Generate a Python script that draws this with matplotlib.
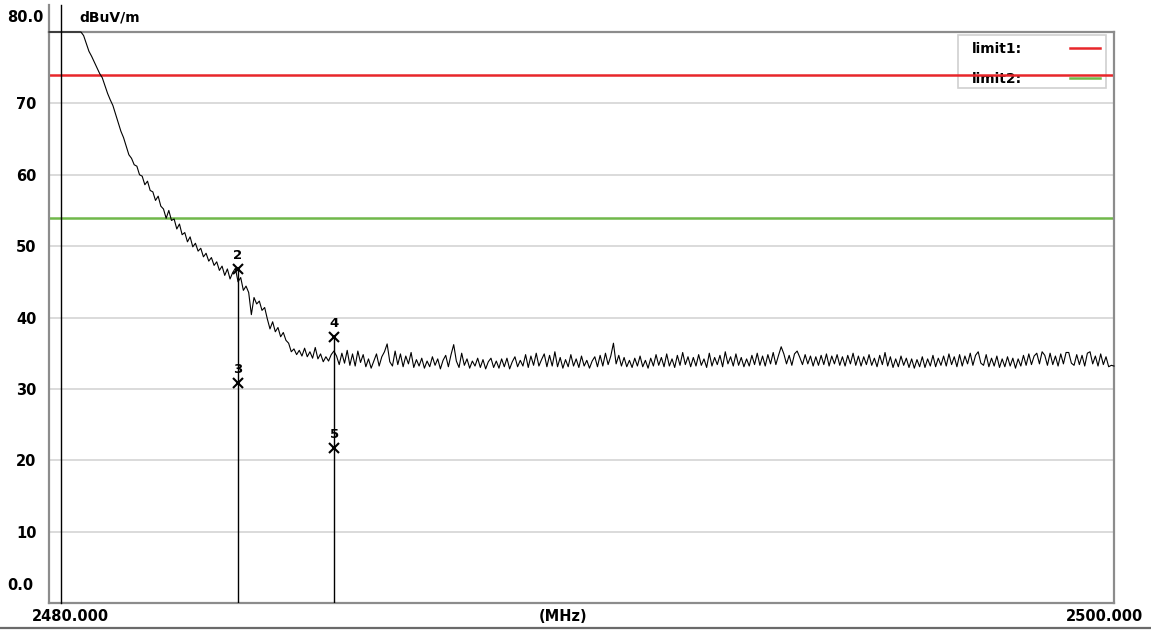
import numpy as np
import matplotlib
matplotlib.use("Agg")
import matplotlib.pyplot as plt
from matplotlib.patches import Rectangle
from matplotlib.lines import Line2D

# dados do ensaio (dBuV/m x MHz)
f_ini = 2480.0
f_fim = 2500.0

nivel_inicio = [
    80.0, 80.0, 80.0, 80.0, 80.0, 80.0, 80.0, 80.0, 80.0, 80.0,
    80.0, 80.0, 80.0, 79.5, 78.4, 77.3, 76.6, 75.8, 75.0, 74.2,
    73.6, 72.5, 71.4, 70.5, 69.7, 68.5, 67.3, 66.1, 65.2, 64.0,
    62.8, 62.3, 61.4, 61.2, 60.0, 59.8, 58.6, 59.1, 57.8, 57.6,
    56.4, 57.0, 55.6, 55.2, 53.9, 55.0, 53.6, 53.8, 52.4, 53.1,
    51.6, 51.9, 50.6, 51.3, 49.9, 50.4, 49.3, 49.7, 48.5, 49.0,
    47.9, 48.4, 47.3, 47.8, 46.6, 47.2, 45.9, 46.8, 45.4, 46.3,
    46.9, 45.0, 45.6, 43.8, 44.4, 43.5, 40.4, 42.8, 41.9, 42.3,
    41.0, 41.4, 39.8, 38.4, 39.4, 38.0, 38.6, 37.3, 37.9, 36.8,
    36.4, 35.2, 35.6, 34.8, 35.4, 34.6, 35.7, 34.5, 35.2, 34.3,
    35.8, 34.2, 34.9, 33.8, 34.5, 33.9, 34.8, 35.3,
]

nivel_ruido = [
    34.6, 33.4, 35.0, 33.6, 35.4, 33.3, 34.9, 33.2, 35.3, 33.7,
    34.8, 33.1, 34.2, 32.9, 33.9, 34.9, 33.2, 34.5, 35.2, 36.3,
    33.8, 33.2, 35.3, 33.4, 34.9, 33.1, 34.6, 33.5, 35.1, 33.0,
    34.1, 33.2, 34.3, 32.9, 33.9, 33.1, 34.5, 33.3, 34.2, 32.8,
    34.0, 34.7, 33.1, 34.8, 36.2, 33.9, 33.0, 35.0, 33.3, 34.2,
    32.9, 33.9, 33.2, 34.3, 33.0, 34.1, 32.8, 33.8, 34.3, 33.0,
    33.9, 32.9, 34.2, 33.1, 34.3, 32.8, 33.8, 34.5, 33.1, 34.0,
    33.2, 34.8, 33.0, 34.6, 33.3, 35.0, 33.2, 34.1, 34.9, 33.1,
    34.7, 33.2, 35.2, 33.1, 34.4, 32.9, 34.1, 33.1, 34.8, 33.2,
    34.2, 33.0, 34.6, 33.2, 34.0, 32.9, 33.9, 34.5, 33.1, 34.7,
    33.2, 35.0, 33.4, 34.6, 36.4, 33.5, 34.7, 33.2, 34.4, 33.1,
    34.0, 33.0, 34.3, 33.2, 34.6, 33.1, 34.0, 32.9, 34.3, 33.2,
    34.8, 33.3, 34.4, 33.1, 34.9, 33.2, 34.2, 33.0, 34.7, 33.3,
    35.1, 33.4, 34.5, 33.1, 34.4, 33.2, 34.8, 33.3, 34.2, 33.0,
    35.0, 33.2, 34.4, 33.4, 34.7, 33.1, 35.2, 33.5, 34.5, 33.2,
    34.9, 33.3, 34.4, 33.1, 34.2, 33.2, 34.7, 33.4, 35.0, 33.3,
    34.6, 33.2, 34.8, 33.5, 35.1, 33.4, 34.7, 35.9, 34.9, 33.5,
    34.7, 33.3, 34.9, 35.3, 34.4, 33.4, 34.8, 33.5, 34.6, 33.2,
    34.5, 33.3, 34.7, 33.4, 34.9, 33.2, 34.6, 33.5, 34.8, 33.3,
    34.5, 33.2, 34.7, 33.5, 35.0, 33.3, 34.6, 33.2, 34.5, 33.4,
    34.8, 33.3, 34.3, 33.1, 34.7, 33.4, 35.1, 33.2, 34.5, 33.0,
    34.2, 33.1, 34.6, 33.3, 34.3, 33.0, 34.2, 32.9, 34.1, 33.1,
    34.5, 33.0, 34.2, 33.2, 34.7, 33.1, 34.3, 33.3, 34.6, 33.2,
    34.9, 33.4, 34.5, 33.1, 34.8, 33.2, 34.6, 33.5, 35.0, 33.3,
    34.7, 35.2, 33.6, 33.3, 34.8, 33.1, 34.3, 33.2, 34.6, 33.0,
    34.2, 33.1, 34.5, 33.2, 34.3, 32.9, 34.2, 33.2, 34.7, 33.3,
    34.9, 33.4, 34.6, 35.0, 33.5, 35.2, 34.7, 33.3, 35.0, 33.4,
    34.6, 33.2, 34.9, 33.5, 35.1, 35.1, 33.6, 33.3, 34.8, 33.4,
    34.7, 33.2, 35.0, 35.2, 33.5, 34.6, 33.2, 34.9, 33.4, 34.5,
    33.1, 33.3, 33.2,
]

niveis = np.array(nivel_inicio + nivel_ruido)
freqs = np.linspace(f_ini, f_fim, len(niveis))

limite1 = 74.0
limite2 = 54.0

# marcadores
marc_num = ["2", "3", "4", "5"]
marc_freq = [2483.54, 2483.54, 2485.36, 2485.36]
marc_nivel = [46.8, 30.8, 37.3, 21.7]
f_marc1 = 2480.23

y_ticks = [10, 20, 30, 40, 50, 60, 70]

plt.rcParams['font.family'] = ['DejaVu Sans']

fig = plt.figure(figsize=(11.51, 6.30), dpi=100)
ax = fig.add_axes([49/1151, 27/630, 1065/1151, 571/630])

ax.set_xlim(f_ini, f_fim)
ax.set_ylim(0, 80)

for s in ax.spines.values():
    s.set_color('#8c8c8c')
    s.set_linewidth(1.6)

for y in y_ticks:
    ax.axhline(y, color='#d4d4d4', lw=1.2, zorder=1)

ax.set_xticks([])
ax.set_yticks(y_ticks)
ax.set_yticklabels([str(v) for v in y_ticks], fontsize=10.5, fontweight='bold')
ax.tick_params(axis='y', length=0, pad=9)

# legenda (desenhada a mao, fica atras das linhas de limite)
ax.add_patch(Rectangle((0.8535, 0.902), 0.139, 0.093, transform=ax.transAxes,
                       facecolor='white', edgecolor='#d0d0d0', lw=1.2, zorder=1.5))
ax.text(0.8667, 0.970, 'limit1:', transform=ax.transAxes, fontsize=10, fontweight='bold',
        va='center', ha='left', zorder=1.6)
ax.text(0.8667, 0.918, 'limit2:', transform=ax.transAxes, fontsize=10, fontweight='bold',
        va='center', ha='left', zorder=1.6)
ax.plot([0.959, 0.987], [0.972, 0.972], color='#e8262a', lw=1.8, transform=ax.transAxes, zorder=1.6)
ax.plot([0.959, 0.987], [0.919, 0.919], color='#70b84a', lw=1.8, transform=ax.transAxes, zorder=1.6)

# limites
ax.axhline(limite1, color='#e8262a', lw=1.8, zorder=2)
ax.axhline(limite2, color='#70b84a', lw=1.8, zorder=2)

# traco medido
ax.plot(freqs, niveis, color='black', lw=0.8, zorder=4, clip_on=False)

# linha do marcador 1 (sai acima da area)
trans = ax.get_xaxis_transform()
ax.plot([f_marc1, f_marc1], [0, 1.047], color='black', lw=1.0, transform=trans, clip_on=False, zorder=4)
ax.plot([0, 0], [1, 1.047], color='#8c8c8c', lw=1.6, transform=ax.transAxes, clip_on=False)

# marcadores com linhas verticais
for i in [0, 2]:
    ax.plot([marc_freq[i], marc_freq[i]], [0, marc_nivel[i]], color='black', lw=1.0, zorder=4)
for n, fm, lv in zip(marc_num, marc_freq, marc_nivel):
    ax.plot(fm, lv, marker='x', color='black', ms=7.5, mew=1.5, zorder=5)
    ax.text(fm, lv + 1.0, n, fontsize=9.5, fontweight='bold', ha='center', va='bottom', zorder=5)

# textos dos eixos
ax.text(-0.0047, 1.026, '80.0', transform=ax.transAxes, fontsize=10.5, fontweight='bold',
        ha='right', va='center')
ax.text(-0.015, 0.030, '0.0', transform=ax.transAxes, fontsize=10.5, fontweight='bold',
        ha='right', va='center')
ax.text(0.0282, 1.026, 'dBuV/m', transform=ax.transAxes, fontsize=10, fontweight='bold',
        ha='left', va='center')
ax.text(0.0197, -0.0245, '2480.000', transform=ax.transAxes, fontsize=10.5, fontweight='bold',
        ha='center', va='center')
ax.text(0.4826, -0.0245, '(MHz)', transform=ax.transAxes, fontsize=10.5, fontweight='bold',
        ha='center', va='center')
ax.text(0.9915, -0.0245, '2500.000', transform=ax.transAxes, fontsize=10.5, fontweight='bold',
        ha='center', va='center')

# linha inferior da figura
fig.add_artist(Line2D([0, 1], [2/630, 2/630], color='#6a6a6a', lw=1.6, transform=fig.transFigure))

fig.savefig('out.png', dpi=100)
